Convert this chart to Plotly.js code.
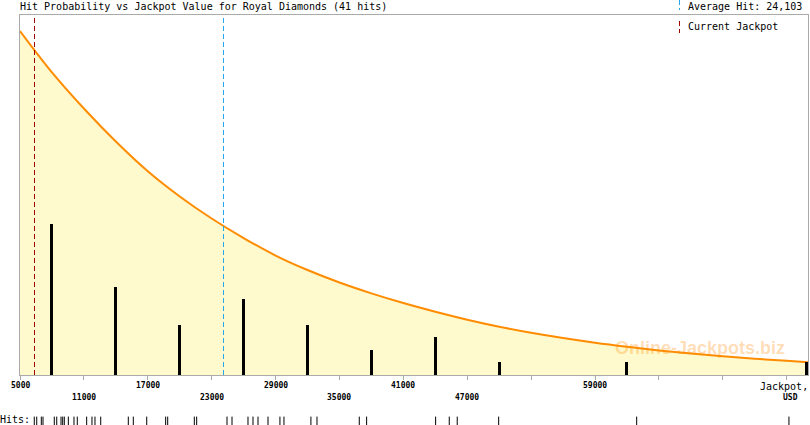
<!DOCTYPE html>
<html>
<head>
<meta charset="utf-8">
<script src="https://cdn.plot.ly/plotly-3.0.1.min.js"></script>
<style>
  html, body { margin: 0; padding: 0; background: #ffffff; }
  #chart { width: 810px; height: 425px; }
  #chart .shapelayer path { shape-rendering: crispEdges; }
</style>
</head>
<body>
<div id="chart"></div>
<script>
// ---- data ----
const chartTitle = "Hit Probability vs Jackpot Value for Royal Diamonds (41 hits)";
const averageHit = 24103;
const currentJackpot = 6400;

// probability curve (scaled to hit-count units)
const curveX = [5000, 8000, 11000, 14000, 17000, 20000, 23000, 26000, 29000, 32000, 35000, 38000, 41000,
                44000, 47000, 50000, 53000, 56000, 59000, 62000, 65000, 68000, 71000, 74000, 77000, 79000];
const curveY = [27.30, 24.02, 21.15, 18.53, 16.17, 14.17, 12.42, 10.87, 9.48, 8.33, 7.34, 6.48, 5.71,
                5.02, 4.39, 3.83, 3.35, 2.93, 2.56, 2.24, 1.95, 1.70, 1.48, 1.29, 1.13, 1.02];

// histogram of hits
const binCenters = [8000, 14000, 20000, 26000, 32000, 38000, 44000, 50000, 62000, 78860];
const binCounts  = [12, 7, 4, 6, 4, 2, 3, 1, 1, 1];

// individual hits (rug)
const hits = [6340, 6570, 7000, 7160, 8220, 8450, 8850, 9010, 9160, 9540, 10070, 10380,
              11260, 11760, 12040, 12580, 15170, 15640, 16900,
              18680, 18870, 21370, 21590,
              24440, 24910, 26410, 26880, 27350, 28290,
              29410, 29790, 32320, 32890,
              36860, 37550,
              44030, 45310, 46060,
              49950, 62910, 77210];

// x axis ticks and labels (row 0 = upper, row 1 = lower, '' = no label)
const tickVals   = [5000, 11000, 17000, 23000, 29000, 35000, 41000, 47000, 53000, 59000, 65000, 71000, 77000];
const tickLabels = ["5000", "11000", "17000", "23000", "29000", "35000", "41000", "47000", "", "59000", "", "", ""];
const tickRows   = [0, 1, 0, 1, 0, 1, 0, 1, 0, 0, 0, 0, 0];

// ---- drawing ----
const W = 810, H = 425, ML = 20, MR = 2, MT = 15, MB = 0;
const PW = W - ML - MR, PH = H - MT - MB;
const px2paperX = p => (p - ML) / PW;
const py2paperY = p => (H - MB - p) / PH;

const mono = "DejaVu Sans Mono, monospace";
const orange = "#ff8c00";
const blue = "#22a6ee";
const red = "#a00000";
const frame = "#aaaaaa";
const yTop = 360 / 12.6;

const traces = [
  {
    type: "scatter", mode: "lines", x: curveX, y: curveY,
    line: { color: orange, width: 2, shape: "spline", smoothing: 1 },
    fill: "tozeroy", fillcolor: "#fffacd", hoverinfo: "skip"
  },
  {
    type: "bar", x: binCenters, y: binCounts, width: 280, xaxis: "x", yaxis: "y3",
    marker: { color: "#000000", line: { width: 0 } }, hoverinfo: "skip"
  },
  {
    type: "scatter", mode: "markers", x: hits, y: hits.map(() => 0.5),
    xaxis: "x", yaxis: "y2", cliponaxis: false,
    marker: { symbol: "line-ns-open", size: 7, color: "#000000", line: { color: "#000000", width: 1 } },
    hoverinfo: "skip"
  }
];

const annotations = [];
annotations.push({
  text: chartTitle, xref: "paper", yref: "paper", x: 0, y: py2paperY(7),
  xanchor: "left", yanchor: "middle", showarrow: false, xshift: -2,
  font: { family: mono, size: 10, color: "#000000" }
});
annotations.push({
  text: "Average Hit: " + averageHit.toLocaleString("en-US"), xref: "paper", yref: "paper",
  x: px2paperX(688), y: py2paperY(6.5), xanchor: "left", yanchor: "middle", showarrow: false, xshift: -2,
  font: { family: mono, size: 10, color: "#000000" }
});
annotations.push({
  text: "Current Jackpot", xref: "paper", yref: "paper",
  x: px2paperX(688), y: py2paperY(26.5), xanchor: "left", yanchor: "middle", showarrow: false, xshift: -2,
  font: { family: mono, size: 10, color: "#000000" }
});
tickVals.forEach((v, i) => {
  if (!tickLabels[i]) return;
  annotations.push({
    text: "<b>" + tickLabels[i] + "</b>", xref: "x", yref: "paper", x: v,
    y: py2paperY(tickRows[i] === 0 ? 385.5 : 397), xanchor: "center", yanchor: "middle",
    showarrow: false, font: { family: mono, size: 8, color: "#000000" }
  });
});
annotations.push({
  text: "Jackpot,", xref: "paper", yref: "paper", x: 1, y: py2paperY(386.5),
  xanchor: "right", yanchor: "middle", showarrow: false, xshift: 2,
  font: { family: mono, size: 10, color: "#000000" }
});
annotations.push({
  text: "<b>USD</b>", xref: "paper", yref: "paper", x: px2paperX(790.5), y: py2paperY(397),
  xanchor: "center", yanchor: "middle", showarrow: false,
  font: { family: mono, size: 8, color: "#000000" }
});
annotations.push({
  text: "Hits:", xref: "paper", yref: "paper", x: px2paperX(0), y: py2paperY(419.5),
  xanchor: "left", yanchor: "middle", showarrow: false, xshift: -2,
  font: { family: mono, size: 10, color: "#000000" }
});
annotations.push({
  text: "<b>Online-Jackpots.biz</b>", xref: "paper", yref: "paper", x: px2paperX(700), y: py2paperY(348),
  xanchor: "center", yanchor: "middle", showarrow: false,
  font: { family: "Liberation Sans, Arial, sans-serif", size: 18, color: "rgba(255,140,0,0.3)" }
});

const shapes = [
  { type: "line", xref: "x", yref: "y domain", x0: averageHit, x1: averageHit, y0: 0, y1: 1,
    line: { color: blue, width: 1, dash: "5px,3px" } },
  { type: "line", xref: "x", yref: "y domain", x0: currentJackpot, x1: currentJackpot, y0: 0, y1: 1,
    line: { color: red, width: 1, dash: "5px,3px" } },
  { type: "line", xref: "paper", yref: "paper", x0: px2paperX(679.5), x1: px2paperX(679.5),
    y0: py2paperY(0), y1: py2paperY(10), line: { color: blue, width: 1, dash: "5px,3px" } },
  { type: "line", xref: "paper", yref: "paper", x0: px2paperX(679.5), x1: px2paperX(679.5),
    y0: py2paperY(20.5), y1: py2paperY(33), line: { color: red, width: 1, dash: "5px,3px" } }
];

const layout = {
  width: W, height: H,
  margin: { l: ML, r: MR, t: MT, b: MB, pad: 0 },
  paper_bgcolor: "#ffffff", plot_bgcolor: "rgba(0,0,0,0)",
  showlegend: false, bargap: 0,
  xaxis: {
    range: [5000, 79000], tickvals: tickVals, ticktext: tickVals.map(() => ""),
    showticklabels: false, ticks: "outside", ticklen: 4, tickwidth: 1, tickcolor: frame,
    showline: true, linecolor: frame, linewidth: 1, mirror: true,
    showgrid: false, zeroline: false, anchor: "y", fixedrange: true
  },
  yaxis: {
    domain: [50 / PH, 1], range: [0, yTop],
    showticklabels: false, ticks: "", showgrid: false, zeroline: false,
    showline: true, linecolor: frame, linewidth: 1, mirror: true, fixedrange: true
  },
  yaxis3: {
    overlaying: "y", range: [0, yTop], anchor: "x", visible: false, fixedrange: true
  },
  yaxis2: {
    domain: [0, 7 / PH], range: [0, 1], anchor: "x", visible: false, fixedrange: true
  },
  annotations: annotations,
  shapes: shapes
};

Plotly.newPlot("chart", traces, layout, { displayModeBar: false, staticPlot: true });
</script>
</body>
</html>
